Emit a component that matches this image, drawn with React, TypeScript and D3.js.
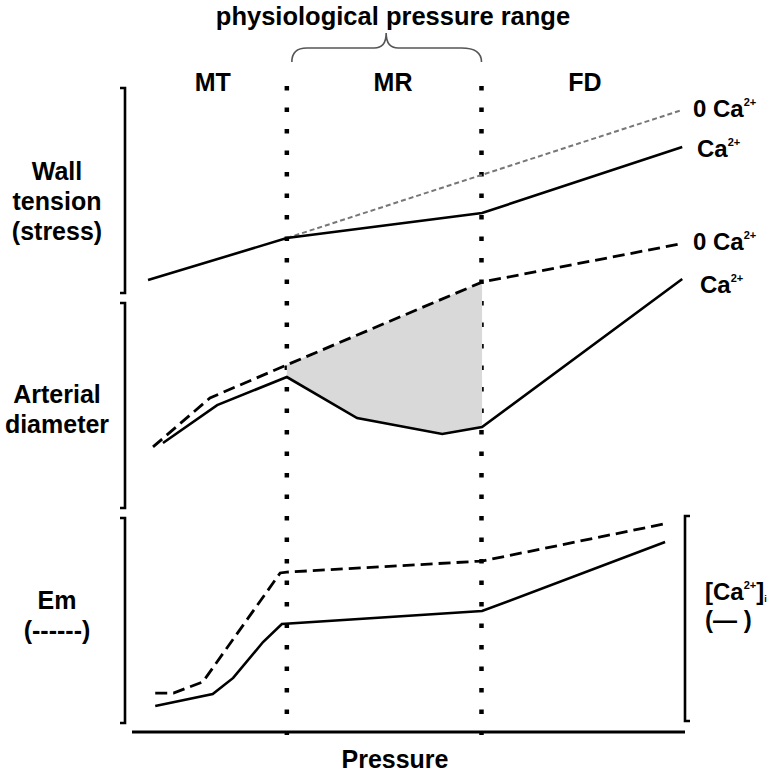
import React from 'react'
import * as d3 from 'd3'

// pressure axis runs 0..100 (arbitrary units), each panel's response 0..100
const regionNames = ['MT', 'MR', 'FD']
const regionCentres = [14.6, 47.2, 81.9]
const regionBounds = [28, 63.2]

// wall tension (stress)
const tensionCa: [number, number][] = [[2.9, 6.3], [28, 26.8], [63.3, 39], [99.5, 71.2]]
const tensionNoCa: [number, number][] = [[28, 26.8], [99.5, 89.3]]

// arterial diameter
const diameterNoCa: [number, number][] = [[3.8, 29.8], [14.1, 53.7], [28, 69.8], [63.3, 110.2], [99.5, 129]]
const diameterCa: [number, number][] = [[5.6, 31.7], [15.4, 50.2], [28, 63.9], [40.7, 43.9], [56.1, 36.1], [63.3, 39.5], [99.5, 111.7]]

// membrane potential (dashed) and [Ca2+]i (solid)
const emValues: [number, number][] = [[4.2, 14.6], [7.5, 14.6], [12.8, 20], [26.8, 73.2], [28, 73.6], [63.3, 79], [96, 97]]
const caValues: [number, number][] = [[4.2, 8.3], [14.6, 14.1], [18.3, 22], [23.7, 39.5], [27.1, 48.3], [63.3, 54.6], [96.4, 88.3]]

const panels = [
  { top: 88, bottom: 293, label: ['Wall', 'tension', '(stress)'], labelY: 180 },
  { top: 303, bottom: 508, label: ['Arterial', 'diameter'], labelY: 403 },
  { top: 518, bottom: 723, label: ['Em', '(------)'], labelY: 609 },
]

const FONT = '"Liberation Sans", Arial, sans-serif'

export default function App() {
  const width = 781
  const height = 775
  const x = d3.scaleLinear().domain([0, 100]).range([132, 685])
  const ys = panels.map((p) => d3.scaleLinear().domain([0, 100]).range([p.bottom, p.top]))

  const lineFor = (i: number) =>
    d3
      .line<[number, number]>()
      .x((d) => x(d[0]))
      .y((d) => ys[i](d[1]))

  // grey area between the two diameter curves inside the MR range
  const inRange = (d: [number, number]) => d[0] >= regionBounds[0] - 0.1 && d[0] <= regionBounds[1] + 0.1
  const fillPts = [...diameterNoCa.filter(inRange), ...diameterCa.filter(inRange).reverse()]
  const fillPath = lineFor(1)(fillPts) + 'Z'

  const x1 = x(regionBounds[0])
  const x2 = x(regionBounds[1])
  const cx = (x1 + x2) / 2 + 2
  const brace = `M${x1 + 5},62 Q${x1 + 5},48 ${x1 + 20},48 L${cx - 12},48 Q${cx},48 ${cx},33 Q${cx},48 ${cx + 12},48 L${x2 - 20},48 Q${x2},48 ${x2},62`

  const sup = (t: string) => (
    <tspan fontSize={11} dy={-11}>
      {t}
    </tspan>
  )

  const endLabel = (lx: number, ly: number, zero: boolean) => (
    <text x={lx} y={ly} fontFamily={FONT} fontWeight="bold" fontSize={24}>
      {zero ? '0 Ca' : 'Ca'}
      {sup('2+')}
    </text>
  )

  return (
    <svg width={width} height={height} style={{ position: 'absolute', left: 0, top: 0, background: '#fff' }}>
      <text x={393} y={25} textAnchor="middle" fontFamily={FONT} fontWeight="bold" fontSize={25.5}>
        physiological pressure range
      </text>
      <path d={brace} fill="none" stroke="#555" strokeWidth={1.6} />
      {regionNames.map((n, i) => (
        <text key={n} x={x(regionCentres[i])} y={91} textAnchor="middle" fontFamily={FONT} fontWeight="bold" fontSize={25}>
          {n}
        </text>
      ))}

      {/* MR boundaries */}
      {regionBounds.map((b) => (
        <line key={b} x1={x(b)} x2={x(b)} y1={86} y2={735} stroke="#000" strokeWidth={4.5} strokeDasharray="4.5 17" />
      ))}

      {/* brackets for each panel */}
      {panels.map((p, i) => (
        <g key={i}>
          <path d={`M120,${p.top} H125 V${p.bottom} H120`} fill="none" stroke="#000" strokeWidth={2.6} />
          {p.label.map((t, j) => (
            <text key={j} x={57} y={p.labelY + j * 30} textAnchor="middle" fontFamily={FONT} fontWeight="bold" fontSize={25}>
              {t}
            </text>
          ))}
        </g>
      ))}
      <path d={`M690,516 H685 V721 H690`} fill="none" stroke="#000" strokeWidth={2.6} />

      {/* wall tension */}
      <path d={lineFor(0)(tensionNoCa) || ''} fill="none" stroke="#777" strokeWidth={2} strokeDasharray="5 3" />
      <path d={lineFor(0)(tensionCa) || ''} fill="none" stroke="#000" strokeWidth={2.6} />
      {endLabel(693, 117, true)}
      {endLabel(697, 157, false)}

      {/* diameter */}
      <path d={fillPath} fill="#d9d9d9" stroke="none" />
      <path d={lineFor(1)(diameterNoCa) || ''} fill="none" stroke="#000" strokeWidth={2.8} strokeDasharray="12 6" />
      <path d={lineFor(1)(diameterCa) || ''} fill="none" stroke="#000" strokeWidth={2.6} />
      {endLabel(693, 250, true)}
      {endLabel(700, 293, false)}

      {/* Em and [Ca2+]i */}
      <path d={lineFor(2)(emValues) || ''} fill="none" stroke="#000" strokeWidth={2.8} strokeDasharray="12 6" />
      <path d={lineFor(2)(caValues) || ''} fill="none" stroke="#000" strokeWidth={2.6} />
      <text x={705} y={600} fontFamily={FONT} fontWeight="bold" fontSize={24}>
        [Ca{sup('2+')}
        <tspan dy={11}>]</tspan>
        <tspan fontSize={9} dy={2}>
          i
        </tspan>
      </text>
      <text x={705} y={628} fontFamily={FONT} fontWeight="bold" fontSize={24}>
        (— )
      </text>

      {/* pressure axis */}
      <line x1={x(0)} x2={x(100)} y1={732} y2={732} stroke="#000" strokeWidth={2.8} />
      <text x={395} y={768} textAnchor="middle" fontFamily={FONT} fontWeight="bold" fontSize={25}>
        Pressure
      </text>
    </svg>
  )
}
